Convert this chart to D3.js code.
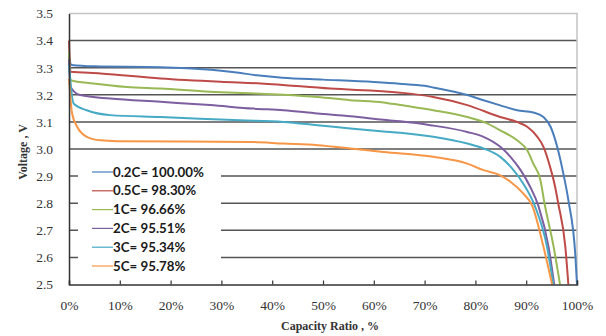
<!DOCTYPE html>
<html>
<head>
<meta charset="utf-8">
<script src="https://cdn.jsdelivr.net/npm/d3@7"></script>
<style>
  body { margin: 0; background: #fff; }
  svg { display: block; }
</style>
</head>
<body>
<svg id="chart" width="606" height="336"></svg>
<script>
// capacity ratio (%) and voltage (V)
var cap02 = [0, 0.5, 5, 18, 28, 33, 37, 42, 50, 60, 65, 70, 71.7, 78.4, 81.6, 84.9, 88.2, 91.4, 93.4, 94.8, 96.1, 97.3, 98.3, 99.7, 100];
var volt02 = [3.34, 3.31, 3.305, 3.302, 3.292, 3.282, 3.272, 3.263, 3.256, 3.247, 3.241, 3.233, 3.227, 3.199, 3.18, 3.161, 3.143, 3.135, 3.118, 3.082, 3.008, 2.91, 2.811, 2.6, 2.5];

var cap05 = [0, 0.3, 6.2, 18, 29.8, 37.7, 51.4, 65.2, 71.7, 78.4, 84.9, 88.2, 90.2, 92.2, 93.4, 94.7, 95.7, 96.3, 97.7, 98.3];
var volt05 = [3.4, 3.285, 3.279, 3.26, 3.248, 3.242, 3.223, 3.208, 3.192, 3.162, 3.118, 3.1, 3.082, 3.045, 3.008, 2.934, 2.86, 2.8, 2.64, 2.5];

var cap1 = [0, 0.3, 4.8, 11.4, 18, 27.8, 36.3, 42.2, 48.9, 55.4, 61.9, 65.2, 71.7, 78.4, 81.6, 84.9, 88.2, 90.2, 91.4, 92.8, 93.6, 95.4, 96.66];
var volt1 = [3.36, 3.254, 3.242, 3.229, 3.223, 3.211, 3.205, 3.2, 3.192, 3.18, 3.172, 3.162, 3.143, 3.118, 3.1, 3.069, 3.032, 2.995, 2.946, 2.885, 2.8, 2.639, 2.5];

var cap2 = [0, 0.3, 2.2, 8.1, 18, 27.8, 36.3, 42.2, 48.9, 55.4, 61.9, 65.2, 71.1, 78.4, 81.6, 84.9, 86.9, 88.9, 90.8, 92.4, 94.4, 95.51];
var volt2 = [3.33, 3.229, 3.199, 3.186, 3.174, 3.162, 3.149, 3.143, 3.131, 3.121, 3.108, 3.102, 3.088, 3.063, 3.045, 3.008, 2.971, 2.922, 2.86, 2.79, 2.639, 2.5];

var cap3 = [0, 0.9, 3.5, 8.1, 18, 33.7, 42.2, 48.9, 55.4, 61.9, 65.2, 71.7, 78.4, 81.6, 84.9, 87.5, 89.4, 91.7, 94.1, 95.34];
var volt3 = [3.31, 3.168, 3.143, 3.125, 3.118, 3.106, 3.1, 3.088, 3.076, 3.065, 3.06, 3.045, 3.02, 3.002, 2.971, 2.922, 2.873, 2.79, 2.639, 2.5];

var cap5 = [0, 0.6, 1.6, 3.5, 6.2, 9.4, 35.7, 42.2, 48.9, 55.4, 61.9, 71.7, 78.4, 81.6, 84.9, 86.9, 89.4, 91.2, 93.4, 95.1];
var volt5 = [3.26, 3.132, 3.082, 3.045, 3.032, 3.029, 3.026, 3.02, 3.014, 3.002, 2.989, 2.971, 2.946, 2.922, 2.903, 2.879, 2.836, 2.79, 2.639, 2.5];

var seriesNames = ["0.2C= 100.00%", "0.5C= 98.30%", "1C= 96.66%", "2C= 95.51%", "3C= 95.34%", "5C= 95.78%"];
var seriesCaps = [cap02, cap05, cap1, cap2, cap3, cap5];
var seriesVolts = [volt02, volt05, volt1, volt2, volt3, volt5];
var colors = ["#4a7ebb", "#be4b48", "#98b954", "#7d5fa0", "#46aac5", "#f79646"];

var yTicks = [2.5, 2.6, 2.7, 2.8, 2.9, 3.0, 3.1, 3.2, 3.3, 3.4, 3.5];
var xTicks = [0, 10, 20, 30, 40, 50, 60, 70, 80, 90, 100];

var svg = d3.select("#chart");
var plotLeft = 69, plotRight = 577, plotTop = 13.5, plotBottom = 284.5;

var x = d3.scaleLinear().domain([0, 100]).range([plotLeft, plotRight]);
var y = d3.scaleLinear().domain([2.5, 3.5]).range([plotBottom, plotTop]);

// horizontal grid lines
svg.append("g")
    .selectAll("line")
    .data(yTicks.filter(function(d) { return d > 2.5 && d < 3.5; }))
    .enter().append("line")
    .attr("x1", plotLeft).attr("x2", plotRight)
    .attr("y1", function(d) { return y(d); })
    .attr("y2", function(d) { return y(d); })
    .attr("stroke", "#555")
    .attr("stroke-width", 1.5);

// light border top / right
svg.append("path")
    .attr("d", "M" + plotLeft + "," + y(3.5) + "H" + plotRight + "V" + plotBottom)
    .attr("fill", "none")
    .attr("stroke", "#c4c4c4")
    .attr("stroke-width", 1.5);

// curves
var line = d3.line()
    .x(function(d) { return x(d[0]); })
    .y(function(d) { return y(d[1]); })
    .curve(d3.curveMonotoneX);

svg.append("g")
    .selectAll("path")
    .data(d3.range(seriesNames.length))
    .enter().append("path")
    .attr("d", function(i) {
        return line(seriesCaps[i].map(function(c, j) { return [c, seriesVolts[i][j]]; }));
    })
    .attr("fill", "none")
    .attr("stroke", function(i) { return colors[i]; })
    .attr("stroke-width", 2);

// legend with white box over the grid
var legend = svg.append("g");
legend.append("rect")
    .attr("x", 78).attr("y", 158)
    .attr("width", 143).attr("height", 118)
    .attr("fill", "#fff");

var item = legend.selectAll("g.item")
    .data(seriesNames)
    .enter().append("g")
    .attr("class", "item")
    .attr("transform", function(d, i) { return "translate(92," + (172 + i * 18.8) + ")"; });

item.append("line")
    .attr("x1", 0).attr("x2", 21)
    .attr("stroke", function(d, i) { return colors[i]; })
    .attr("stroke-width", 1.2);

item.append("text")
    .attr("x", 21).attr("y", 4.5)
    .attr("font-family", "Lato, sans-serif")
    .attr("font-weight", "bold")
    .attr("font-size", 13.3)
    .attr("fill", "#1a1a1a")
    .text(function(d) { return d; });

// axes
var yAxis = d3.axisLeft(y).tickValues(yTicks).tickSize(0).tickPadding(16)
    .tickFormat(d3.format(".1f"));
var gy = svg.append("g").attr("transform", "translate(" + plotLeft + ",0)").call(yAxis);
gy.select(".domain").attr("stroke", "#333").attr("stroke-width", 1.5);
gy.selectAll("text")
    .attr("font-family", "'Liberation Serif', serif")
    .attr("font-size", 13.5)
    .attr("fill", "#333");

var xAxis = d3.axisBottom(x).tickValues(xTicks).tickSize(-4).tickPadding(16)
    .tickFormat(function(d) { return d + "%"; });
var gx = svg.append("g").attr("transform", "translate(0," + plotBottom + ")").call(xAxis);
gx.select(".domain").attr("stroke", "#333").attr("stroke-width", 1.5);
gx.selectAll(".tick line").attr("stroke", "#333").attr("stroke-width", 1.2);
gx.selectAll("text")
    .attr("font-family", "'Liberation Serif', serif")
    .attr("font-size", 13.5)
    .attr("fill", "#333");

// titles
svg.append("text")
    .attr("x", 330).attr("y", 330)
    .attr("text-anchor", "middle")
    .attr("font-family", "'Liberation Serif', serif")
    .attr("font-size", 12)
    .attr("font-weight", "bold")
    .attr("fill", "#333")
    .text("Capacity Ratio , %");

svg.append("text")
    .attr("transform", "translate(27,152) rotate(-90)")
    .attr("text-anchor", "middle")
    .attr("font-family", "'Liberation Serif', serif")
    .attr("font-size", 12)
    .attr("font-weight", "bold")
    .attr("fill", "#333")
    .text("Voltage , V");
</script>
</body>
</html>
